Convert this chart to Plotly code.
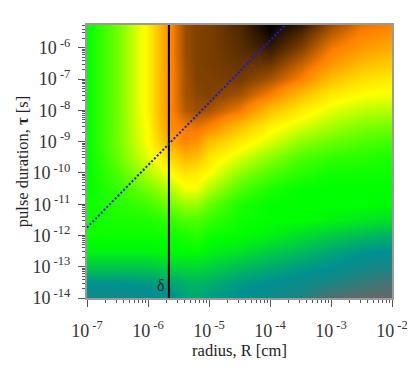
"""Pulse duration vs. radius map, log axes, with the delta and diffusion lines."""

import plotly.graph_objects as go

LOG_RADIUS = [-7, -6.5, -6, -5.64, -5.4, -5.2, -5, -4.5, -4, -3.5, -3, -2.5, -2]
LOG_TAU = [-14, -13.5, -13, -12.5, -12, -11.5, -11, -10.5, -10, -9.5, -9, -8.5,
           -8, -7.5, -7, -6.5, -6, -5.5, -5.27]

# colour level per row (bottom to top): 0 grey, 1 teal, 2 green, 3 yellow, 4 orange, 5 black
LEVELS = [
    [.8, .8, .85, .95, 1.15, 1.2, 1.1, .95, .85, .7, .2, .05, 0],
    [1.05, 1.05, 1.1, 1.2, 1.3, 1.35, 1.3, 1.1, 1.0, .9, .75, .5, .3],
    [1.5, 1.5, 1.5, 1.6, 1.65, 1.65, 1.6, 1.4, 1.25, 1.1, 1.0, .85, .75],
    [1.9, 1.9, 1.9, 1.95, 2, 2, 1.9, 1.75, 1.55, 1.4, 1.2, 1.05, .98],
    [2.05, 2.05, 2.05, 2.05, 2.1, 2.15, 2.05, 2.0, 1.9, 1.7, 1.55, 1.4, 1.3],
    [2.05, 2.1, 2.1, 2.2, 2.3, 2.3, 2.2, 2.05, 2.0, 2.0, 1.9, 1.8, 1.7],
    [2.05, 2.15, 2.25, 2.45, 2.6, 2.6, 2.4, 2.1, 2.0, 2.0, 2.0, 2.0, 1.95],
    [2.0, 2.2, 2.45, 2.7, 2.95, 2.95, 2.7, 2.3, 2.1, 2.0, 2.0, 2.0, 2.0],
    [2.0, 2.3, 2.7, 3.0, 3.2, 3.15, 3.0, 2.55, 2.3, 2.15, 2.05, 2.05, 2.05],
    [2.0, 2.4, 2.9, 3.3, 3.6, 3.5, 3.2, 2.85, 2.55, 2.3, 2.2, 2.15, 2.1],
    [2.0, 2.45, 3.0, 3.7, 3.95, 3.85, 3.5, 3.15, 2.85, 2.55, 2.4, 2.3, 2.25],
    [2.0, 2.45, 3.05, 3.9, 4.05, 4.1, 4.0, 3.5, 3.1, 2.85, 2.65, 2.5, 2.45],
    [2.0, 2.45, 3.1, 3.95, 4.3, 4.4, 4.35, 4.05, 3.5, 3.15, 2.9, 2.75, 2.7],
    [2.0, 2.45, 3.1, 3.95, 4.35, 4.45, 4.5, 4.35, 4.0, 3.5, 3.15, 3.0, 2.95],
    [2.0, 2.45, 3.1, 3.95, 4.35, 4.5, 4.5, 4.55, 4.35, 4.0, 3.5, 3.25, 3.15],
    [2.0, 2.45, 3.1, 3.95, 4.38, 4.5, 4.52, 4.6, 4.6, 4.25, 3.85, 3.55, 3.4],
    [2.0, 2.45, 3.1, 3.95, 4.4, 4.5, 4.52, 4.65, 4.8, 4.5, 4.05, 3.8, 3.65],
    [2.0, 2.45, 3.1, 3.95, 4.4, 4.5, 4.52, 4.68, 4.95, 4.7, 4.3, 4.0, 3.9],
    [2.0, 2.45, 3.1, 3.95, 4.4, 4.5, 4.52, 4.7, 5.0, 4.82, 4.4, 4.1, 3.95],
]

DELTA_R = [2.2e-6, 2.2e-6]
DELTA_TAU = [1e-14, 5.4e-6]
DIFFUSION_R = [1e-7, 1.78e-4]
DIFFUSION_TAU = [1.78e-12, 5.4e-6]

X_TICKS = [1e-7, 1e-6, 1e-5, 1e-4, 1e-3, 1e-2]
X_LABELS = ['10<sup> -7</sup>', '10<sup> -6</sup>', '10<sup> -5</sup>',
            '10<sup> -4</sup>', '10<sup> -3</sup>', '10<sup> -2</sup>']
Y_TICKS = [1e-14, 1e-13, 1e-12, 1e-11, 1e-10, 1e-9, 1e-8, 1e-7, 1e-6]
Y_LABELS = ['10<sup> -14</sup>', '10<sup> -13</sup>', '10<sup> -12</sup>',
            '10<sup> -11</sup>', '10<sup> -10</sup>', '10<sup> -9</sup>',
            '10<sup> -8</sup>', '10<sup> -7</sup>', '10<sup> -6</sup>']
MINOR_STEPS = [2, 3, 4, 5, 6, 7, 8, 9]

SCALE = [[0, '#666666'], [.2, '#009090'], [.4, '#00ff00'], [.6, '#ffff00'],
         [.8, '#ff8000'], [1, '#000000']]
FONT = 'Liberation Serif'
AXIS_GREY = '#9a9a9a'


def minor_style(major_ticks):
  values = [tick * step for tick in major_ticks for step in MINOR_STEPS]
  return dict(ticks='outside', ticklen=3, tickcolor='#555555', showgrid=False,
              tickmode='array', tickvals=values)


fig = go.Figure()
fig.add_trace(go.Heatmap(
    x=[10 ** v for v in LOG_RADIUS],
    y=[10 ** v for v in LOG_TAU],
    z=LEVELS,
    zmin=0,
    zmax=5,
    zsmooth='best',
    colorscale=SCALE,
    showscale=False,
    hoverinfo='skip'))
fig.add_trace(go.Scatter(x=DELTA_R, y=DELTA_TAU, mode='lines',
                         line=dict(color='#000000', width=2), showlegend=False))
fig.add_trace(go.Scatter(x=DIFFUSION_R, y=DIFFUSION_TAU, mode='lines',
                         line=dict(color='#1c1cc4', width=2, dash='2px 2px'),
                         showlegend=False))

axis_style = dict(
    type='log', automargin=False, ticks='outside', ticklen=7, tickwidth=1,
    tickcolor='#555555', showgrid=False, zeroline=False, showline=True,
    linecolor=AXIS_GREY, linewidth=2, mirror=True,
    tickfont=dict(family=FONT, size=18, color='#333333'))

fig.update_xaxes(range=[-7, -2], tickvals=X_TICKS, ticktext=X_LABELS,
                 minor=minor_style(X_TICKS), ticklabelstandoff=8, **axis_style,
                 title=dict(text='radius, R [cm]', standoff=4,
                            font=dict(family=FONT, size=16.5, color='#222222')))
fig.update_yaxes(range=[-14, -5.27], tickvals=Y_TICKS, ticktext=Y_LABELS,
                 minor=minor_style(Y_TICKS), ticklabelstandoff=4, **axis_style,
                 title=dict(text='pulse duration, <b>τ</b> [s]', standoff=0,
                            font=dict(family=FONT, size=16.5, color='#222222')))

fig.add_annotation(x=-5.78, y=-13.6, text='δ', showarrow=False,
                   font=dict(family=FONT, size=16, color='#222222'))

# the page adds an 8px body margin, so the figure is 8px short of the window
fig.update_layout(
    width=407, height=368,
    margin=dict(l=79, r=23, t=17, b=78, pad=0),
    paper_bgcolor='white', plot_bgcolor='white')

fig.write_html("out.html")
